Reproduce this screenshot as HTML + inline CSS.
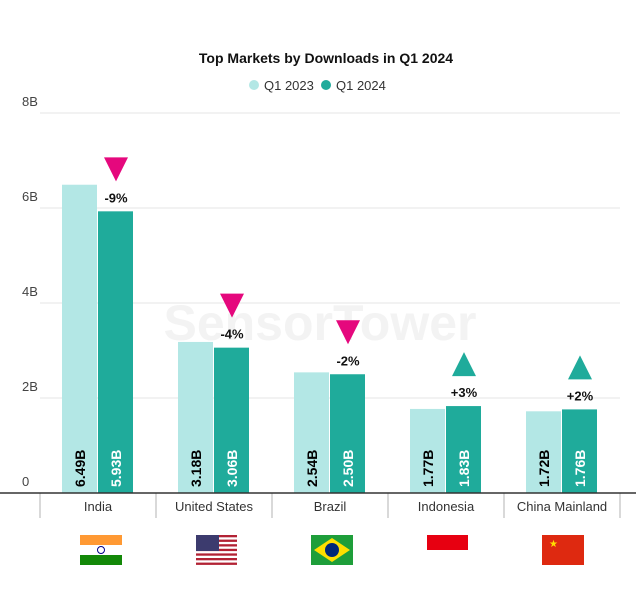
<!DOCTYPE html>
<html><head><meta charset="utf-8"><style>
body{margin:0;background:#fff;font-family:"Liberation Sans",sans-serif}
</style></head><body>
<svg width="636" height="595" id="c">
<text x="326" y="63" text-anchor="middle" font-size="14" font-weight="bold" fill="#111">Top Markets by Downloads in Q1 2024</text>
<g>
<circle cx="254" cy="85" r="5" fill="#b3e7e5"/>
<text x="264" y="90" font-size="13" fill="#333">Q1 2023</text>
<circle cx="326" cy="85" r="5" fill="#1fab9b"/>
<text x="336" y="90" font-size="13" fill="#333">Q1 2024</text>
</g>
<text x="320" y="340" text-anchor="middle" font-size="50" font-weight="bold" fill="#f3f3f3">SensorTower</text>
<g id="grid"></g><g id="bars"></g><g id="axis"></g>
</svg>
<script>
const categories=["India","United States","Brazil","Indonesia","China Mainland"];
const q2023=[6.49,3.18,2.54,1.77,1.72];
const q2024=[5.93,3.06,2.50,1.83,1.76];
const changes=["-9%","-4%","-2%","+3%","+2%"];
const yTicks=[0,2,4,6,8];
const yTickLabels=["0","2B","4B","6B","8B"];
const NS="http://www.w3.org/2000/svg";
const x0=40,band=116,base=493,unit=47.5;
const y=v=>base-v*unit;
const bx=i=>x0+i*band;
function mk(p,t,a){const e=document.createElementNS(NS,t);for(const k in a)e.setAttribute(k,a[k]);document.getElementById(p).appendChild(e);return e;}
yTicks.forEach((t,i)=>{
 if(t>0){const l=mk('grid','line',{x1:40,x2:620,y1:y(t),y2:y(t),stroke:'#e6e6e6'});
 
 }
 const tx=mk('grid','text',{x:22,y:y(t)-7,'font-size':13,fill:'#444'});tx.textContent=yTickLabels[i];
 
 
});
categories.forEach((c,i)=>{
 const cx=bx(i)+band/2;
 [[q2023[i],'#b3e7e5',cx-36],[q2024[i],'#1fab9b',cx]].forEach(([v,col,x],j)=>{
  const r=mk('bars','rect',{x:x,y:y(v),width:35,height:base-y(v),fill:col});
  
  
  const t=mk('bars','text',{x:0,y:0,'font-size':14,'font-weight':'bold',fill:j?'#fff':'#000',transform:`translate(${x+23},${base-6}) rotate(-90)`});
  t.textContent=v.toFixed(2)+'B';
  
  
 });
 const top=y(q2024[i]);const tcx=cx+18;const up=changes[i][0]==='+';
 const tri=mk('bars','polygon',{points:up?`${tcx-12},${top-30} ${tcx+12},${top-30} ${tcx},${top-54}`:`${tcx-12},${top-54} ${tcx+12},${top-54} ${tcx},${top-30}`,fill:up?'#1fab9b':'#e5087d'});
 
 
 const ct=mk('bars','text',{x:tcx,y:top-9,'text-anchor':'middle','font-size':13,'font-weight':'bold',fill:'#111'});ct.textContent=changes[i];
 
 
 const lt=mk('axis','text',{x:cx,y:511,'text-anchor':'middle','font-size':13,fill:'#333'});lt.textContent=c;
 
 
});
for(let i=0;i<=5;i++){const t=mk('axis','line',{x1:bx(i),x2:bx(i),y1:base,y2:518,stroke:'#ccc','stroke-width':1.5});
 
 }
const ax=mk('axis','line',{x1:0,x2:636,y1:base,y2:base,stroke:'#333','stroke-width':1.5});


</script>
<svg width="636" height="595" style="position:absolute;left:0;top:0">
<g><rect x="80" y="535" width="42" height="10" fill="#ff9933"/><rect x="80" y="545" width="42" height="10" fill="#fff"/><rect x="80" y="555" width="42" height="10" fill="#138808"/><circle cx="101" cy="550" r="3.5" fill="none" stroke="#000088"/></g>
<g><rect x="196" y="535" width="41" height="30" fill="#fff"/><g fill="#b22234"><rect x="196" y="535" width="41" height="2.3"/><rect x="196" y="539.6" width="41" height="2.3"/><rect x="196" y="544.2" width="41" height="2.3"/><rect x="196" y="548.8" width="41" height="2.3"/><rect x="196" y="553.4" width="41" height="2.3"/><rect x="196" y="558" width="41" height="2.3"/><rect x="196" y="562.6" width="41" height="2.3"/></g><rect x="196" y="535" width="23" height="16" fill="#3c3b6e"/></g>
<g><rect x="311" y="535" width="42" height="30" fill="#1e9e3a"/><polygon points="332,538 350,550 332,562 314,550" fill="#fedf00"/><circle cx="332" cy="550" r="7" fill="#002776"/></g>
<g><rect x="427" y="535" width="41" height="15" fill="#e70011"/><rect x="427" y="550" width="41" height="15" fill="#fff"/></g>
<g><rect x="542" y="535" width="42" height="30" fill="#de2910"/><text x="549" y="547" font-size="10" fill="#ffde00">★</text></g>
</svg>
</body></html>
